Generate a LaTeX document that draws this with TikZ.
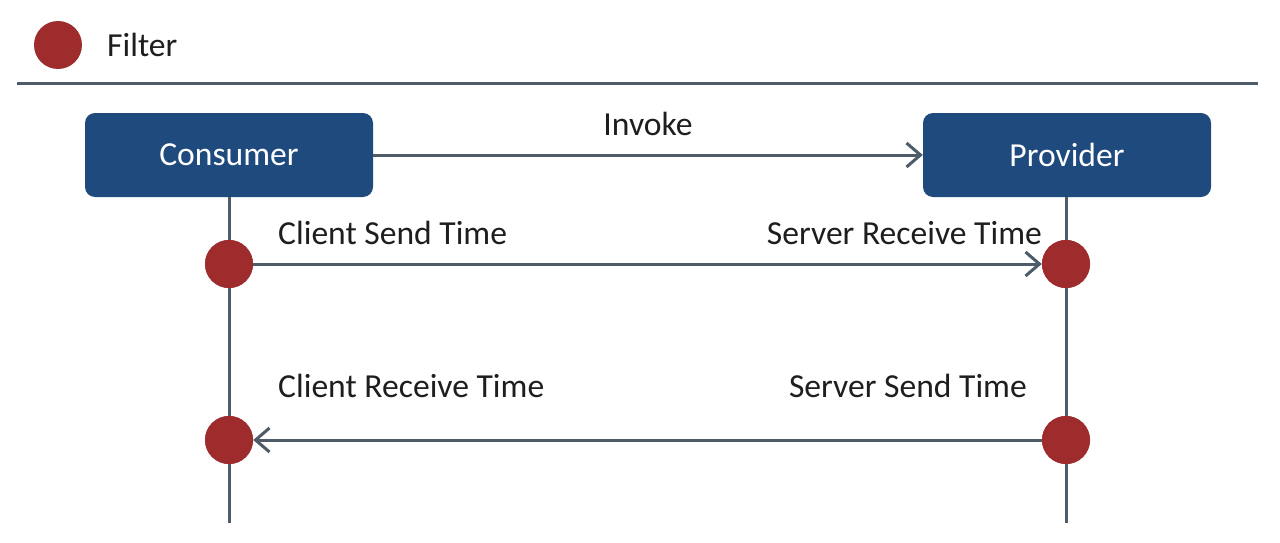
\documentclass[tikz,border=0pt]{standalone}
\usepackage{fontspec}
\setmainfont{Carlito}
\usetikzlibrary{arrows.meta}
\definecolor{boxblue}{RGB}{31,74,126}
\definecolor{filterred}{RGB}{158,44,44}
\definecolor{linegray}{RGB}{78,92,106}
\definecolor{textgray}{RGB}{30,30,30}
\tikzset{
  box/.style={draw=none, fill=boxblue, rounded corners=10pt, minimum width=288pt, minimum height=84pt, text=white, font=\fontsize{33.6}{38}\selectfont, inner sep=0pt},
  filt/.style={circle, fill=filterred, minimum size=48pt, inner sep=0pt},
  lbl/.style={text=textgray, font=\fontsize{33.6}{38}\selectfont, inner sep=0pt},
  life/.style={draw=linegray, line width=3pt},
  msg/.style={draw=linegray, line width=3pt, -{Straight Barb[length=14pt,width=24pt]}},
}
\begin{document}
\begin{tikzpicture}[x=1pt,y=-1pt]
\useasboundingbox (0,0) rectangle (1280,543);
\fill[white] (0,0) rectangle (1280,543);
% legend
\node[filt] (leg) at (58,45) {};
\node[lbl, anchor=west] (legt) at (107,45) {Filter};
\coordinate (hl) at (17,84);
\coordinate (hr) at (1258,84);
\draw[draw=linegray, line width=3pt] (hl) -- (hr);
% boxes
\node[box] (cons) at (229,155) {Consumer};
\node[box] (prov) at (1067,155) {Provider};
% filters
\node[filt] (c1) at (229,264) {};
\node[filt] (p1) at (1066,264) {};
\node[filt] (c2) at (229,440) {};
\node[filt] (p2) at (1066,440) {};
\coordinate (cend) at (229,523);
\coordinate (pend) at (1066,523);
% lifelines
\draw[life] (cons.south -| c1) -- (c1);
\draw[life] (c1) -- (c2);
\draw[life] (c2) -- (cend);
\draw[life] (prov.south -| p1) -- (p1);
\draw[life] (p1) -- (p2);
\draw[life] (p2) -- (pend);
\node[filt] at (c1) {};
\node[filt] at (p1) {};
\node[filt] at (c2) {};
\node[filt] at (p2) {};
% messages
\draw[msg] (cons.east) -- (prov.west);
\draw[msg] (c1.east) -- (p1.west);
\draw[msg] (p2.west) -- (c2.east);
% labels
\node[lbl] (inv) at (648,124) {Invoke};
\node[lbl, anchor=west] (cst) at (278,233) {Client Send Time};
\node[lbl, anchor=east] (srt) at (1042,233) {Server Receive Time};
\node[lbl, anchor=west] (crt) at (278,386) {Client Receive Time};
\node[lbl, anchor=east] (sst) at (1027,386) {Server Send Time};
\end{tikzpicture}
\end{document}
